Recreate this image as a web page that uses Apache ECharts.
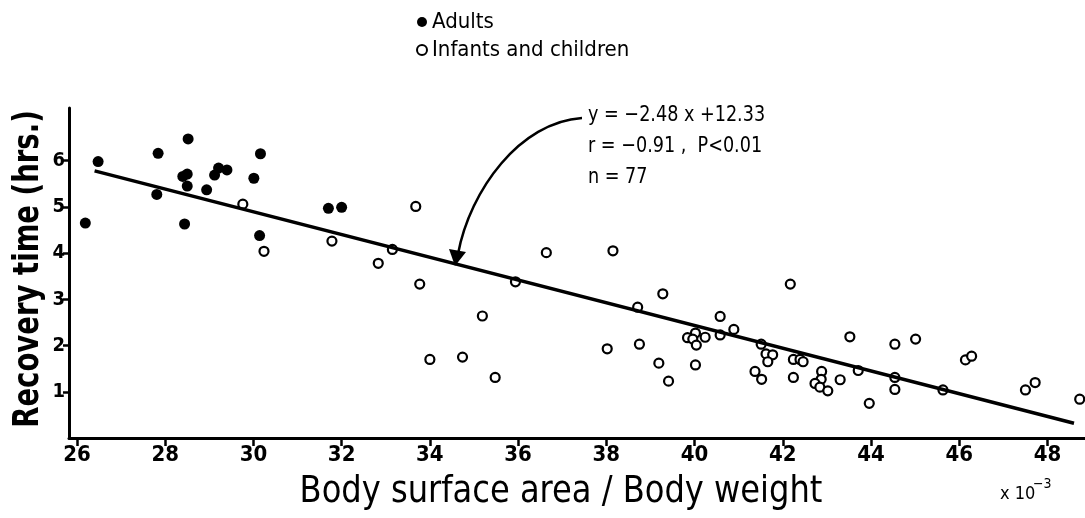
<!DOCTYPE html>
<html>
<head>
<meta charset="utf-8">
<script src="https://cdn.jsdelivr.net/npm/echarts@6/dist/echarts.min.js"></script>
<style>
  html, body { margin: 0; padding: 0; background: #fff; }
  #chart { width: 1085px; height: 518px; }
</style>
</head>
<body>
<div id="chart"></div>
<script>
// data
const adultX = [26.19, 26.48, 27.84, 28.52, 28.50, 28.50, 28.44, 27.81, 28.94, 29.12, 29.21, 29.40, 30.01, 30.16, 30.14, 31.70, 32.00, 28.40]
const adultY = [4.65, 5.98, 6.16, 6.47, 5.71, 5.45, 4.63, 5.27, 5.37, 5.69, 5.84, 5.80, 5.62, 6.15, 4.38, 4.97, 4.99, 5.66]

const childX = [29.76, 30.24, 31.78, 33.68, 33.15, 32.83, 33.77, 36.64, 35.94, 35.19, 34.00, 34.74, 35.48,
  38.15, 39.28, 38.71, 38.02, 38.75, 39.19, 39.41,
  40.58, 40.89, 40.58, 40.02, 39.84, 39.96, 40.04, 40.24, 40.02,
  42.17, 41.51, 41.62, 41.77, 41.66, 41.37, 41.52,
  42.24, 42.39, 42.46, 42.24,
  42.88, 42.87, 42.73, 42.84, 43.02, 43.30,
  43.52, 43.71, 43.96, 44.54, 44.54, 44.54,
  45.01, 45.63, 46.14, 46.28, 47.50, 47.72, 48.73]
const childY = [5.06, 4.04, 4.26, 5.01, 4.08, 3.78, 3.33, 4.01, 3.38, 2.64, 1.70, 1.75, 1.31,
  4.05, 3.12, 2.83, 1.93, 2.03, 1.62, 1.23,
  2.63, 2.35, 2.23, 2.27, 2.17, 2.14, 2.01, 2.18, 1.58,
  3.33, 2.03, 1.82, 1.80, 1.65, 1.44, 1.27,
  1.70, 1.70, 1.65, 1.31,
  1.44, 1.27, 1.18, 1.10, 1.02, 1.26,
  2.19, 1.46, 0.75, 2.03, 1.31, 1.05,
  2.14, 1.04, 1.69, 1.77, 1.04, 1.20, 0.84]

// regression line ends
const fitX = [26.4, 48.6]
const fitY = [5.78, 0.32]

const xTicks = [26, 28, 30, 32, 34, 36, 38, 40, 42, 44, 46, 48]
const yTicks = [1, 2, 3, 4, 5, 6]

const narrow = "'Liberation Sans Narrow', 'DejaVu Sans Condensed', 'Liberation Sans', sans-serif"

const zip = (xs, ys) => xs.map((x, i) => [x, ys[i]])

const chart = echarts.init(document.getElementById('chart'), null, { renderer: 'canvas' })

// annotation text, squeezed a bit to look like the condensed face
const note = (text, y) => ({
  type: 'text', x: 588, y, scaleX: 0.89,
  style: { text, fill: '#000', font: '22px ' + narrow }
})

chart.setOption({
  backgroundColor: '#fff',
  animation: false,
  grid: { left: 69, right: 0, top: 108, bottom: 80 },
  legend: {
    data: ['Adults', 'Infants and children'],
    orient: 'vertical',
    left: 411,
    top: 6,
    itemWidth: 10,
    itemHeight: 10,
    itemGap: 6,
    textStyle: { fontFamily: narrow, fontSize: 22, color: '#000' }
  },
  xAxis: {
    type: 'value',
    min: 25.82,
    max: 48.85,
    splitLine: { show: false },
    axisLine: { lineStyle: { color: '#000', width: 3 } },
    axisTick: { customValues: xTicks, length: 8, lineStyle: { color: '#000', width: 2.5 } },
    axisLabel: { customValues: xTicks, margin: 6, color: '#000', fontFamily: narrow, fontWeight: 'bold', fontSize: 22 }
  },
  yAxis: {
    type: 'value',
    min: 0,
    max: 7.14,
    splitLine: { show: false },
    axisLine: { show: true, lineStyle: { color: '#000', width: 3 } },
    axisTick: { show: true, customValues: yTicks, length: 6, lineStyle: { color: '#000', width: 2.5 } },
    axisLabel: { customValues: yTicks, margin: 4, color: '#000', fontFamily: narrow, fontWeight: 'bold', fontSize: 20 }
  },
  series: [
    {
      name: 'fit',
      type: 'line',
      data: zip(fitX, fitY),
      symbol: 'none',
      lineStyle: { color: '#000', width: 3.5 },
      silent: true
    },
    {
      name: 'Adults',
      type: 'scatter',
      data: zip(adultX, adultY),
      symbol: 'circle',
      symbolSize: 11,
      itemStyle: { color: '#000', opacity: 1 }
    },
    {
      name: 'Infants and children',
      type: 'scatter',
      data: zip(childX, childY),
      symbol: 'circle',
      symbolSize: 9,
      itemStyle: { color: '#fff', borderColor: '#000', borderWidth: 2.2, opacity: 1 }
    }
  ],
  graphic: [
    // y axis title
    {
      type: 'text', x: 29, y: 269, rotation: Math.PI / 2, scaleX: 0.85,
      style: { text: 'Recovery time (hrs.)', fill: '#000', font: 'bold 36px ' + narrow, align: 'center', verticalAlign: 'middle' }
    },
    // x axis title
    {
      type: 'text', x: 561, y: 492, scaleX: 0.94,
      style: { text: 'Body surface area / Body weight', fill: '#000', font: '38px ' + narrow, align: 'center', verticalAlign: 'middle' }
    },
    { type: 'text', x: 1000, y: 494, style: { text: 'x 10', fill: '#000', font: '18px ' + narrow, verticalAlign: 'middle' } },
    { type: 'text', x: 1033, y: 484, style: { text: '−3', fill: '#000', font: '14px ' + narrow, verticalAlign: 'middle' } },
    // annotation
    note('y = −2.48 x +12.33', 104),
    note('r = −0.91 ,  P<0.01', 135),
    note('n = 77', 166),
    {
      type: 'bezierCurve',
      shape: { x1: 582, y1: 118, cpx1: 520, cpy1: 122, cpx2: 470, cpy2: 190, x2: 458, y2: 254 },
      style: { stroke: '#000', lineWidth: 2.5, fill: null }
    },
    {
      type: 'polygon',
      shape: { points: [[455, 266], [449, 249], [466, 252]] },
      style: { fill: '#000' }
    }
  ]
})
</script>
</body>
</html>
